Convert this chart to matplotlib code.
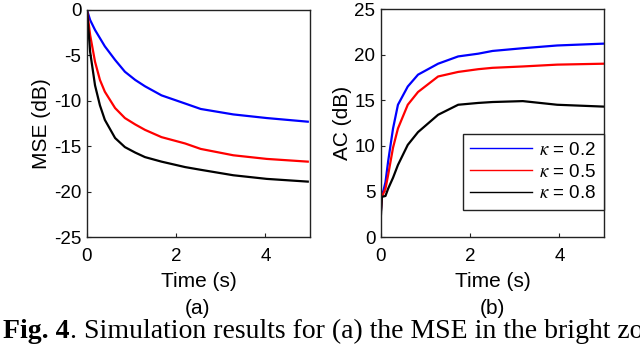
import matplotlib
matplotlib.use('Agg')
import matplotlib.pyplot as plt

# values
t_mse = [0.0, 0.07, 0.18, 0.29, 0.4, 0.63, 0.85, 1.08, 1.3, 1.67, 2.2, 2.55, 3.28, 4.03, 4.95]
mse_02 = [0.0, -1.1, -2.2, -3.1, -4.0, -5.5, -6.8, -7.7, -8.4, -9.4, -10.3, -10.9, -11.5, -11.9, -12.3]
mse_05 = [0.0, -2.75, -5.7, -7.7, -9.0, -10.8, -11.9, -12.6, -13.2, -14.0, -14.7, -15.3, -16.0, -16.4, -16.7]
mse_08 = [0.0, -4.6, -8.3, -10.5, -12.1, -14.1, -15.1, -15.7, -16.2, -16.7, -17.3, -17.6, -18.2, -18.6, -18.9]

t_ac = [0.0, 0.02, 0.1, 0.16, 0.27, 0.38, 0.6, 0.83, 1.28, 1.73, 2.18, 2.5, 3.18, 3.95, 4.98]
ac_02 = [3.0, 4.4, 6.0, 8.3, 11.9, 14.5, 16.5, 17.8, 19.0, 19.8, 20.1, 20.4, 20.7, 21.0, 21.2]
ac_05 = [3.0, 4.4, 5.3, 6.8, 9.8, 11.9, 14.5, 15.9, 17.6, 18.1, 18.4, 18.55, 18.7, 18.9, 19.0]
ac_08 = [2.5, 4.4, 4.5, 5.3, 6.5, 7.9, 10.1, 11.5, 13.4, 14.5, 14.7, 14.8, 14.9, 14.5, 14.3]

kappa_labels = [r'$\kappa$ = 0.2', r'$\kappa$ = 0.5', r'$\kappa$ = 0.8']
colors = ['#0000ff', '#ff0000', '#000000']

plt.rcParams['font.family'] = ['Liberation Sans', 'DejaVu Sans']
plt.rcParams['mathtext.fontset'] = 'stix'
plt.rcParams['axes.unicode_minus'] = False

W, H = 640, 344
fig = plt.figure(figsize=(W / 100, H / 100), dpi=100)

def px_axes(x0, x1, y0, y1):
    return fig.add_axes([x0 / W, 1 - y1 / H, (x1 - x0) / W, (y1 - y0) / H])

ax1 = px_axes(87, 310, 10, 237)
ax2 = px_axes(381, 604, 9, 237)

for y, c in zip([mse_02, mse_05, mse_08], colors):
    ax1.plot(t_mse, y, color=c, lw=1.6)
for y, c, lab in zip([ac_02, ac_05, ac_08], colors, kappa_labels):
    ax2.plot(t_ac, y, color=c, lw=1.6, label=lab)

fs_tick = 13.5
fs_lab = 15
ax1.set_ylim(-25, 0)
ax1.set_yticks([-25, -20, -15, -10, -5, 0])
ax1.set_ylabel('MSE (dB)', fontsize=fs_lab, labelpad=2)
ax2.set_ylim(0, 25)
ax2.set_yticks([0, 5, 10, 15, 20, 25])
ax2.set_ylabel('AC (dB)', fontsize=fs_lab, labelpad=2)

for ax in (ax1, ax2):
    ax.set_xlim(0, 5)
    ax.set_xticks([0, 2, 4])
    ax.set_xlabel('Time (s)', fontsize=fs_lab, labelpad=5)
    ax.tick_params(direction='in', length=3, labelsize=fs_tick, width=0.8, colors='#222222',
                   labelcolor='black')
    ax.tick_params(axis='x', pad=8)
    ax.tick_params(axis='y', pad=4)
    for s in ax.spines.values():
        s.set_color('#222222')
        s.set_linewidth(1.0)

leg = ax2.legend(loc='lower right', bbox_to_anchor=(1.0, 27 / 228), borderaxespad=0,
                 fontsize=fs_tick, handlelength=3.3, handletextpad=0.4, labelspacing=0.25,
                 fancybox=False, framealpha=1, borderpad=0.4)
leg.get_frame().set_edgecolor('#222222')
leg.get_frame().set_linewidth(1.0)
for l in leg.get_lines():
    l.set_linewidth(1.0)

fig.text(198 / W, 1 - 299 / H, '(a)', ha='center', va='top', fontsize=fs_lab)
fig.text(492 / W, 1 - 299 / H, '(b)', ha='center', va='top', fontsize=fs_lab)

# caption, cut off on the right as in the source
cap_y = 1 - 338 / H
t1 = fig.text(3 / W, cap_y, 'Fig. 4', fontsize=20, fontweight='bold', va='baseline',
              family='Liberation Serif', zorder=5)
fig.canvas.draw()
bb = t1.get_window_extent()
fig.text(bb.x1 / W, cap_y, '. Simulation results for (a) the MSE in the bright zo',
         fontsize=20, va='baseline', family='Liberation Serif', zorder=5)
fig.patches.append(plt.Rectangle((0, 0), 1, (H - 317) / H, transform=fig.transFigure,
                                 color='white', zorder=1, figure=fig))

fig.savefig('out.png', dpi=100)
